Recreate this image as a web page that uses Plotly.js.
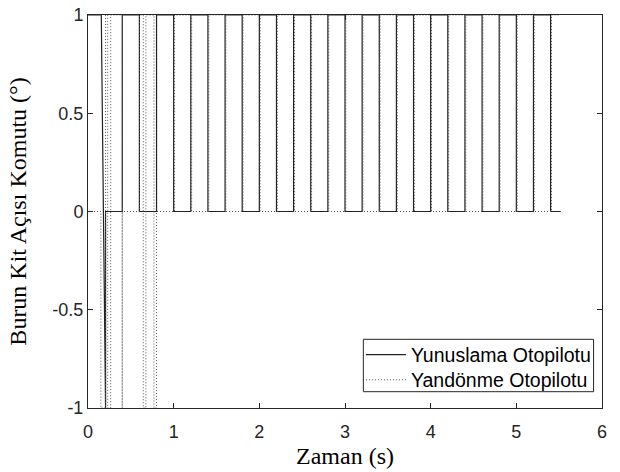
<!DOCTYPE html>
<html>
<head>
<meta charset="utf-8">
<script src="https://cdn.plot.ly/plotly-3.0.1.min.js"></script>
<style>html,body{margin:0;padding:0;background:#fff;}#chart{width:620px;height:472px;}</style>
</head>
<body>
<div id="chart"></div>
<script>
// Series names
const seriesNames = ["Yunuslama Otopilotu", "Yandönme Otopilotu"];

// Yunuslama (pitch) command: time (s) and value (°)
const pitchT = [0, 0.155, 0.205, 0.205,
  0.4, 0.4, 0.6, 0.6, 0.8, 0.8, 1.0, 1.0, 1.2, 1.2, 1.4, 1.4,
  1.6, 1.6, 1.8, 1.8, 2.0, 2.0, 2.2, 2.2, 2.4, 2.4, 2.6, 2.6,
  2.8, 2.8, 3.0, 3.0, 3.2, 3.2, 3.4, 3.4, 3.6, 3.6, 3.8, 3.8,
  4.0, 4.0, 4.2, 4.2, 4.4, 4.4, 4.6, 4.6, 4.8, 4.8, 5.0, 5.0,
  5.2, 5.2, 5.4, 5.4, 5.52];
const pitchV = [1, 1, -1, 0,
  0, 1, 1, 0, 0, 1, 1, 0, 0, 1, 1, 0,
  0, 1, 1, 0, 0, 1, 1, 0, 0, 1, 1, 0,
  0, 1, 1, 0, 0, 1, 1, 0, 0, 1, 1, 0,
  0, 1, 1, 0, 0, 1, 1, 0, 0, 1, 1, 0,
  0, 1, 1, 0, 0];

// Yandönme (yaw) command: time (s) and value (°)
const yawT = [0, 0.15, 0.15, 0.205, 0.205, 0.23, 0.23, 0.265, 0.265, 0.4, 0.4, 0.4,
  0.6, 0.6, 0.645, 0.645, 0.675, 0.675, 0.77, 0.77, 0.8, 0.8,
  1.01, 1.01, 1.21, 1.21, 1.41, 1.41, 1.61, 1.61, 1.81, 1.81, 2.01, 2.01,
  2.21, 2.21, 2.41, 2.41, 2.61, 2.61, 2.81, 2.81, 3.01, 3.01, 3.21, 3.21,
  3.41, 3.41, 3.61, 3.61, 3.81, 3.81, 4.01, 4.01, 4.21, 4.21, 4.41, 4.41,
  4.61, 4.61, 4.81, 4.81, 5.01, 5.01, 5.21, 5.21, 5.41, 5.41, 5.5];
const yawV = [0, 0, -1, -1, 1, 1, -1, -1, 1, 1, -1, 0,
  0, 1, 1, -1, -1, 1, 1, -1, -1, 0,
  0, 1, 1, 0, 0, 1, 1, 0, 0, 1, 1, 0,
  0, 1, 1, 0, 0, 1, 1, 0, 0, 1, 1, 0,
  0, 1, 1, 0, 0, 1, 1, 0, 0, 1, 1, 0,
  0, 1, 1, 0, 0, 1, 1, 0, 0, 1, 1];

// Tick values / labels
const xTickVals = [0, 1, 2, 3, 4, 5, 6];
const xTickText = ["0", "1", "2", "3", "4", "5", "6"];
const yTickVals = [-1, -0.5, 0, 0.5, 1];
const yTickText = ["-1", "-0.5", "0", "0.5", "1"];

const axisColor = "#262626";
const tickFont = {family: "Liberation Sans, Arial, sans-serif", size: 18, color: axisColor};
const titleFont = {family: "Liberation Serif, Times New Roman, serif", size: 24, color: "#000"};
const legendFont = {family: "Liberation Sans, Arial, sans-serif", size: 19.5, color: "#000"};

const traces = [
  {x: pitchT, y: pitchV, type: "scatter", mode: "lines", name: seriesNames[0],
   legend: "legend", line: {color: "#222", width: 1.2}},
  {x: yawT, y: yawV, type: "scatter", mode: "lines", name: seriesNames[1],
   legend: "legend2", line: {color: "#555", width: 1, dash: "1px,2px"}}
];

const legendBase = {xanchor: "left", yanchor: "middle", bgcolor: "rgba(0,0,0,0)",
  borderwidth: 0, font: legendFont, itemwidth: 40};

const layout = {
  width: 620, height: 472,
  margin: {l: 88, r: 18, t: 15, b: 64},
  paper_bgcolor: "#fff", plot_bgcolor: "#fff",
  showlegend: true,
  legend: Object.assign({x: 0.531, y: 0.135}, legendBase),
  legend2: Object.assign({x: 0.531, y: 0.071}, legendBase),
  shapes: [{type: "rect", xref: "paper", yref: "paper",
    x0: 0.5357, x1: 0.9836, y0: 0.0415, y1: 0.1748,
    line: {color: axisColor, width: 1}, fillcolor: "#fff", layer: "above"}],
  xaxis: {range: [0, 6], tickvals: xTickVals, ticktext: xTickText,
    ticks: "inside", ticklen: 5, tickcolor: axisColor, showline: true, linecolor: axisColor,
    linewidth: 1, mirror: "ticks", showgrid: false, zeroline: false, tickfont: tickFont,
    ticklabelstandoff: 7,
    title: {text: "Zaman (s)", font: titleFont, standoff: 6}},
  yaxis: {range: [-1, 1], tickvals: yTickVals, ticktext: yTickText,
    ticks: "inside", ticklen: 5, tickcolor: axisColor, showline: true, linecolor: axisColor,
    linewidth: 1, mirror: "ticks", showgrid: false, zeroline: false, tickfont: tickFont,
    title: {text: "Burun Kit Açısı Komutu (°)", font: titleFont, standoff: 18}}
};

Plotly.newPlot("chart", traces, layout, {staticPlot: true, displayModeBar: false});
</script>
</body>
</html>
